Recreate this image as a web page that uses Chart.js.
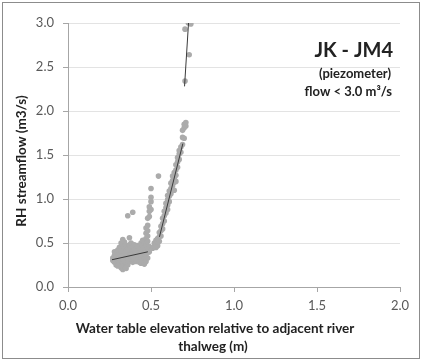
<!DOCTYPE html>
<html><head><meta charset="utf-8">
<script src="https://cdn.jsdelivr.net/npm/chart.js@4/dist/chart.umd.min.js"></script>
<style>html,body{margin:0;padding:0;background:#fff}#w{width:422px;height:362px;position:relative}</style>
</head><body><div id="w"><canvas id="c" width="422" height="362"></canvas></div>
<script>
// Observations: water table elevation (m) vs RH streamflow (m3/s)
const obsX = [0.27,0.27,0.28,0.28,0.28,0.29,0.29,0.29,0.30,0.30,0.30,0.30,0.31,0.31,0.31,0.31,0.32,0.32,0.32,0.32,0.32,0.33,0.33,0.33,0.33,0.33,0.33,0.34,0.34,0.34,0.34,0.34,0.35,0.35,0.35,0.35,0.35,0.36,0.36,0.36,0.36,0.36,0.37,0.37,0.37,0.37,0.37,0.38,0.38,0.38,0.38,0.39,0.39,0.39,0.39,0.39,0.40,0.40,0.40,0.40,0.41,0.41,0.41,0.41,0.42,0.42,0.42,0.42,0.43,0.43,0.43,0.43,0.44,0.44,0.44,0.44,0.44,0.45,0.45,0.45,0.45,0.45,0.46,0.46,0.46,0.46,0.46,0.47,0.47,0.47,0.47,0.47,0.47,0.47,0.48,0.48,0.48,0.48,0.48,0.48,0.48,0.48,0.49,0.49,0.49,0.49,0.49,0.50,0.50,0.50,0.50,
0.51,0.52,0.52,0.53,0.53,0.53,0.54,0.54,0.54,0.55,0.55,0.55,0.545,0.56,0.56,0.56,0.57,0.57,0.57,0.58,0.58,0.58,0.59,0.59,0.59,0.60,0.60,0.60,0.60,0.61,0.61,0.61,0.62,0.62,0.62,0.63,0.63,0.63,0.64,0.64,0.64,0.64,0.65,0.65,0.65,0.65,0.66,0.66,0.66,0.67,0.67,0.67,0.68,0.68,0.69,0.69,0.70,0.69,0.70,0.70,0.71,0.71,
0.705,0.705,0.725,0.74,0.73];
const obsY = [0.33,0.30,0.36,0.28,0.40,0.32,0.25,0.38,0.30,0.42,0.35,0.24,0.28,0.33,0.45,0.38,0.22,0.30,0.35,0.41,0.50,0.26,0.20,0.38,0.32,0.47,0.54,0.24,0.29,0.36,0.43,0.51,0.21,0.27,0.33,0.40,0.47,0.25,0.31,0.38,0.44,0.81,0.29,0.35,0.41,0.48,0.56,0.31,0.37,0.44,0.50,0.28,0.34,0.40,0.46,0.85,0.30,0.36,0.42,0.48,0.33,0.38,0.44,0.29,0.35,0.41,0.47,0.31,0.28,0.34,0.39,0.45,0.32,0.37,0.43,0.50,0.27,0.30,0.36,0.41,0.47,0.53,0.26,0.33,0.38,0.44,0.50,0.29,0.35,0.41,0.47,0.55,0.61,0.67,0.33,0.39,0.45,0.52,0.58,0.64,0.70,0.78,0.40,0.46,0.80,0.86,0.91,0.97,1.02,1.12,0.88,
0.44,0.46,0.50,0.45,0.49,0.53,0.47,0.51,0.55,0.52,0.57,0.62,1.26,0.58,0.64,0.69,0.66,0.72,0.78,0.75,0.81,0.86,0.84,0.90,0.95,0.88,0.93,0.99,1.04,0.97,1.03,1.09,1.06,1.12,1.18,1.15,1.21,1.26,1.10,1.19,1.24,1.30,1.27,1.33,1.39,1.20,1.36,1.42,1.47,1.45,1.51,1.55,1.53,1.59,1.62,1.70,1.69,1.78,1.81,1.85,1.83,1.87,
2.34,2.93,3.00,2.99,2.64];
// Trend segments
const trend1X = [0.265, 0.481], trend1Y = [0.31, 0.40];
const trend2X = [0.551, 0.692], trend2Y = [0.57, 1.63];
const trend3X = [0.702, 0.726], trend3Y = [2.28, 3.00];
const xTicks = [0, 0.5, 1.0, 1.5, 2.0];
const yTicks = [0, 0.5, 1.0, 1.5, 2.0, 2.5, 3.0];
const titleMain = "JK - JM4", titleSub1 = "(piezometer)", titleSub2 = "flow < 3.0 m\u00b3/s";
const yTitle = "RH streamflow (m3/s)";
const xTitle1 = "Water table elevation relative to adjacent river", xTitle2 = "thalweg (m)";

const pts = (xs, ys) => xs.map((x, i) => ({x, y: ys[i]}));
const FONT = "Lato";
const deco = {
  id: 'deco',
  afterDraw(ch) {
    const c = ch.ctx; c.save();
    c.strokeStyle = '#8c8c8c'; c.lineWidth = 1;
    c.strokeRect(2.5, 2.5, 417, 356);
    c.fillStyle = '#222222';
    c.textAlign = 'right'; c.textBaseline = 'alphabetic';
    c.font = 'bold 20px ' + FONT; c.fillText(titleMain, 393, 57);
    c.font = 'bold 13px ' + FONT; c.fillText(titleSub1, 391, 78);
    c.fillText(titleSub2, 392, 96);
    c.textAlign = 'center';
    c.font = 'bold 13.5px ' + FONT;
    c.fillText(xTitle1, 215, 333);
    c.fillText(xTitle2, 213, 351);
    c.translate(26, 161); c.rotate(-Math.PI/2);
    c.fillText(yTitle, 0, 0);
    c.restore();
  }
};
new Chart(document.getElementById('c'), {
  type: 'scatter',
  data: { datasets: [
    { data: pts(obsX, obsY), backgroundColor: '#ababab', borderColor: '#ababab', pointRadius: 2.8, pointBorderWidth: 0, order: 2 },
    { data: pts(trend1X, trend1Y), showLine: true, pointRadius: 0, borderColor: '#3a3a3a', borderWidth: 1, order: 1 },
    { data: pts(trend2X, trend2Y), showLine: true, pointRadius: 0, borderColor: '#3a3a3a', borderWidth: 1, order: 1 },
    { data: pts(trend3X, trend3Y), showLine: true, pointRadius: 0, borderColor: '#3a3a3a', borderWidth: 1, order: 1 }
  ]},
  options: {
    responsive: false, animation: false,
    layout: { padding: { left: 0, right: 22, top: 23, bottom: 0 } },
    plugins: { legend: { display: false }, tooltip: { enabled: false } },
    scales: {
      x: { type: 'linear', min: 0, max: 2,
        afterBuildTicks: s => { s.ticks = xTicks.map(v => ({value: v})); },
        afterFit: s => { s.height = 75; },
        grid: { drawOnChartArea: false, tickLength: 5, tickColor: '#a6a6a6' },
        border: { color: '#a6a6a6' },
        ticks: { padding: 6, color: '#595959', font: { family: FONT, size: 13 }, callback: v => v.toFixed(1) } },
      y: { type: 'linear', min: 0, max: 3,
        afterBuildTicks: s => { s.ticks = yTicks.map(v => ({value: v})); },
        afterFit: s => { s.width = 68; },
        grid: { color: '#e3e3e3', tickLength: 5, tickColor: '#a6a6a6' },
        border: { color: '#a6a6a6' },
        ticks: { padding: 9, color: '#595959', font: { family: FONT, size: 13 }, callback: v => v.toFixed(1) } }
    }
  },
  plugins: [deco]
});
</script></body></html>
